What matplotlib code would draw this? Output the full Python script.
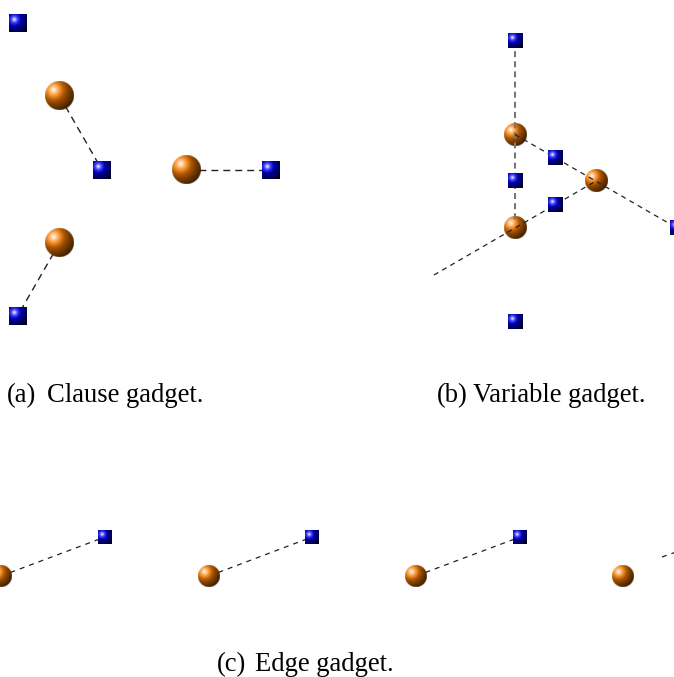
import numpy as np
import matplotlib
matplotlib.use("Agg")
import matplotlib.pyplot as plt

plt.rcParams['lines.scale_dashes'] = False

# (a) clause gadget: node centres in pixels
clause_balls = [(59.5, 96), (186.5, 170), (59.5, 243)]
clause_boxes = [(17.5, 23.5), (102, 170), (271, 170), (17.5, 316)]
clause_links = [((59.5, 96), (102, 170)),
                ((186.5, 170), (271, 170)),
                ((59.5, 243), (17.5, 316))]

# (b) variable gadget
var_balls = [(515, 134.5), (596, 181), (515, 228)]
var_boxes = [(515, 41), (555.5, 158), (515, 181), (555.5, 205), (677, 228), (515, 322)]
var_black = [((434, 275), (596, 181)), ((515, 134.5), (677, 228))]
var_gray = [((515, 41), (515, 222))]

# (c) edge gadget, repeated along a row
edge_balls = [(1, 576), (209, 576), (416, 576), (623, 576)]
edge_boxes = [(105, 537), (312, 537), (520, 537)]
edge_links = [((1, 576), (105, 537)), ((209, 576), (312, 537)),
              ((416, 576), (520, 537)), ((662, 557), (676, 552))]

captions = [("(a)", "Clause gadget.", 7, 47, 402),
            ("(b)", "Variable gadget.", 437, 473, 402),
            ("(c)", "Edge gadget.", 217, 255, 671)]

ORANGE = np.array([1.0, 0.5, 0.0])
BLUE = np.array([0.0, 0.0, 1.0])


def ball_rgb(base, d):
    # TikZ-style ball shading: stops in bp, distance from the highlight
    stops = [0, 9, 18, 25, 50]
    white, black = np.ones(3), np.zeros(3)
    cols = [white, 0.75 * base + 0.25 * white, 0.7 * base, 0.5 * base, black]
    cols = np.array(cols)
    return np.stack([np.interp(d, stops, cols[:, k]) for k in range(3)], axis=-1)


def shaded(ax, cx, cy, half, base, round_shape, z):
    n = int(half * 2 * 4)
    t = (np.arange(n) + 0.5) / n * 2 - 1
    u, v = np.meshgrid(t, t)
    d = np.hypot(u + 0.4, v + 0.4) * 25
    rgba = np.ones((n, n, 4))
    rgba[..., :3] = ball_rgb(base, d)
    if round_shape:
        rpix = np.hypot(u, v) * half
        rgba[..., 3] = np.clip(half - rpix + 0.5, 0, 1)
    ax.imshow(rgba, extent=(cx - half, cx + half, cy + half, cy - half),
              interpolation='antialiased', zorder=z)


def dashed(ax, seg, color, lw, dash, z):
    (x0, y0), (x1, y1) = seg
    ax.plot([x0, x1], [y0, y1], color=color, lw=lw, dashes=dash,
            solid_capstyle='butt', dash_capstyle='butt', zorder=z)


fig = plt.figure(figsize=(6.74, 6.77), dpi=100)
ax = fig.add_axes([0, 0, 1, 1])

# clause gadget, links below the nodes
for seg in clause_links:
    dashed(ax, seg, '#222222', 1.0, (5, 3.6), 1)
for x, y in clause_balls:
    shaded(ax, x, y, 14.5, ORANGE, True, 2)
for x, y in clause_boxes:
    shaded(ax, x, y, 9, BLUE, False, 3)

# variable gadget, links drawn across the balls
for x, y in var_balls:
    shaded(ax, x, y, 11.5, ORANGE, True, 2)
for seg in var_gray:
    dashed(ax, seg, '#777777', 1.5, (4.3, 3.0), 3)
for seg in var_black:
    dashed(ax, seg, '#222222', 0.9, (3.6, 3.2), 3)
for x, y in var_boxes:
    shaded(ax, x, y, 7.2, BLUE, False, 4)

# edge gadget
for seg in edge_links:
    dashed(ax, seg, '#222222', 0.9, (3.6, 3.6), 1)
for x, y in edge_balls:
    shaded(ax, x, y, 11, ORANGE, True, 2)
for x, y in edge_boxes:
    shaded(ax, x, y, 7, BLUE, False, 3)

for tag, text, xt, xc, yb in captions:
    ax.text(xt, yb, tag, fontfamily='Liberation Serif', fontsize=19.2, va='baseline', ha='left')
    ax.text(xc, yb, text, fontfamily='Liberation Serif', fontsize=19.2, va='baseline', ha='left')

ax.set_xlim(0, 674)
ax.set_ylim(677, 0)
ax.set_aspect('auto')
ax.axis('off')

fig.savefig('out.png', dpi=100)
